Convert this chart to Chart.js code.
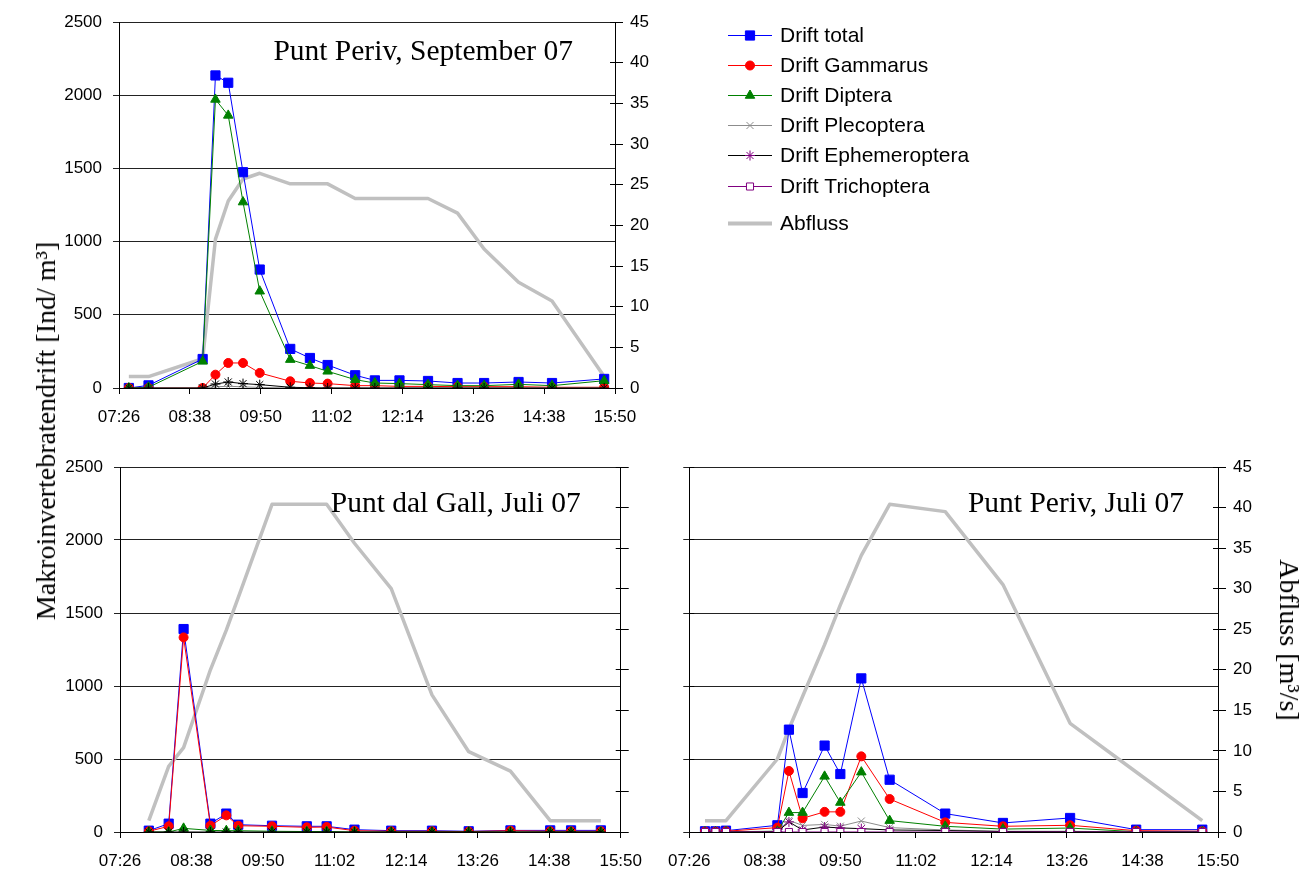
<!DOCTYPE html>
<html>
<head>
<meta charset="utf-8">
<title>Makroinvertebratendrift und Abfluss</title>
<script src="https://cdn.jsdelivr.net/npm/chart.js@4.4.1/dist/chart.umd.min.js"></script>
<style>
  html, body { margin: 0; padding: 0; background: #fff; }
  #fig { position: relative; width: 1308px; height: 870px; overflow: hidden; background: #fff; }
  #fig canvas { position: absolute; }
  .ytitle {
    position: absolute; white-space: nowrap; color: #000; line-height: 1;
    font-family: 'Liberation Serif', 'Times New Roman', serif; font-size: 28px;
  }
  #tLeft  { left: 46px;   top: 431px; transform: translate(-50%, -50%) rotate(-90deg); }
  #tRight { left: 1289px; top: 640px; transform: translate(-50%, -50%) rotate(90deg); }
</style>
</head>
<body>
<div id="fig">
  <canvas id="cSep"   width="1308" height="440" style="left:0;top:0"></canvas>
  <canvas id="cGall"  width="655"  height="430" style="left:0;top:440px"></canvas>
  <canvas id="cPeriv" width="653"  height="430" style="left:655px;top:440px"></canvas>
  <div class="ytitle" id="tLeft">Makroinvertebratendrift [Ind/ m³]</div>
  <div class="ytitle" id="tRight">Abfluss [m³/s]</div>
</div>
<script>
// ---- time axis ----
const xTickLabels = ['07:26', '08:38', '09:50', '11:02', '12:14', '13:26', '14:38', '15:50'];

// ---- Punt Periv, September 07 ----
const sepTimes = ['07:36', '07:56', '08:51', '09:04', '09:17', '09:32', '09:49', '10:20', '10:40', '10:58',
                  '11:26', '11:46', '12:11', '12:40', '13:10', '13:37', '14:12', '14:46', '15:39'];
const sepTotal         = [0, 18, 198, 2135, 2085, 1474, 809, 267, 205, 157, 87, 52, 52, 48, 34, 34, 41, 34, 62];
const sepGammarus      = [0, 0, 0, 91, 171, 171, 103, 46, 34, 30, 16, 16, 11, 11, 9, 9, 9, 5, 5];
const sepDiptera       = [0, 5, 182, 1971, 1862, 1270, 661, 194, 153, 114, 57, 34, 30, 23, 16, 16, 25, 16, 50];
const sepPlecoptera    = [0, 0, 0, 8, 12, 8, 4, 0, 0, 0, 0, 0, 0, 0, 0, 0, 0, 0, 0];
const sepEphemeroptera = [0, 0, 0, 27, 41, 30, 23, 5, 2, 0, 0, 0, 0, 0, 0, 0, 0, 0, 0];
const sepAbfluss       = [1.4, 1.4, 3.6, 18.3, 23.0, 25.7, 26.4, 25.1, 25.1, 25.1, 23.3, 23.3, 23.3, 23.3, 21.5, 17.1, 13.0, 10.7, 1.4];

// ---- Punt dal Gall, Juli 07 ----
const gallTimes = ['07:55', '08:15', '08:30', '08:57', '09:13', '09:25', '09:59', '10:34', '10:54', '11:22',
                   '11:59', '12:40', '13:17', '13:59', '14:39', '15:00', '15:30'];
const gallTotal         = [9, 57, 1390, 57, 126, 50, 43, 39, 39, 16, 9, 9, 5, 11, 11, 11, 11];
const gallGammarus      = [5, 39, 1333, 43, 114, 43, 39, 32, 34, 9, 5, 5, 3, 9, 5, 5, 5];
const gallDiptera       = [0, 0, 25, 11, 9, 9, 5, 3, 3, 0, 0, 0, 0, 0, 0, 0, 0];
const gallEphemeroptera = [0, 0, 0, 0, 0, 0, 0, 0, 0, 0, 0, 0, 0, 0, 0, 0, 0];
const gallAbfluss       = [1.4, 8.1, 10.4, 20.0, 24.9, 28.9, 40.4, 40.4, 40.4, 35.6, 30.0, 16.9, 9.9, 7.5, 1.4, 1.4, 1.4];

// ---- Punt Periv, Juli 07 ----
const perivTimes = ['07:41', '07:51', '08:01', '08:50', '09:01', '09:14', '09:35', '09:50', '10:10', '10:37',
                    '11:30', '12:25', '13:29', '14:32', '15:35'];
const perivTotal         = [5, 5, 9, 46, 701, 267, 592, 397, 1052, 358, 126, 62, 96, 16, 16];
const perivGammarus      = [3, 3, 5, 30, 418, 94, 138, 138, 518, 226, 66, 39, 46, 9, 5];
const perivDiptera       = [0, 0, 2, 5, 133, 133, 381, 202, 410, 78, 39, 20, 27, 2, 2];
const perivPlecoptera    = [0, 0, 0, 5, 80, 45, 52, 40, 75, 30, 14, 5, 5, 0, 0];
const perivEphemeroptera = [0, 0, 0, 2, 69, 14, 34, 28, 23, 14, 10, 3, 2, 0, 0];
const perivTrichoptera   = [0, 0, 0, 0, 0, 0, 0, 0, 0, 0, 0, 0, 0, 0, 0];
const perivAbfluss       = [1.4, 1.4, 1.4, 9.0, 12.7, 16.7, 23.1, 28.0, 34.1, 40.4, 39.5, 30.5, 13.4, 7.4, 1.4];

// ---- appearance ----
const SANS  = "'Liberation Sans', Arial, Helvetica, sans-serif";
const SERIF = "'Liberation Serif', 'Times New Roman', serif";

const STYLE = {
  total:         { label: 'Drift total',         line: '#0000ff', marker: '#0000ff', fill: '#0000ff', pointStyle: 'rect',     radius: 6.5, order: 6 },
  gammarus:      { label: 'Drift Gammarus',      line: '#ff0000', marker: '#ff0000', fill: '#ff0000', pointStyle: 'circle',   radius: 4.5, order: 5 },
  diptera:       { label: 'Drift Diptera',       line: '#008000', marker: '#008000', fill: '#008000', pointStyle: 'triangle', radius: 5.5, order: 4 },
  plecoptera:    { label: 'Drift Plecoptera',    line: '#8c8c8c', marker: '#8c8c8c', fill: '#8c8c8c', pointStyle: 'crossRot', radius: 5,   order: 3 },
  ephemeroptera: { label: 'Drift Ephemeroptera', line: '#000000', marker: '#800080', fill: '#800080', pointStyle: 'star',     radius: 5,   order: 2 },
  trichoptera:   { label: 'Drift Trichoptera',   line: '#800080', marker: '#800080', fill: '#ffffff', pointStyle: 'rect',     radius: 5,   order: 1 },
  abfluss:       { label: 'Abfluss',             line: '#c0c0c0', width: 3.5, order: 10 }
};
const legendKeys = ['total', 'gammarus', 'diptera', 'plecoptera', 'ephemeroptera', 'trichoptera', 'abfluss'];

Chart.defaults.font.family = SANS;
Chart.defaults.color = '#000';

const toMin = t => { const p = t.split(':').map(Number); return p[0] * 60 + p[1]; };
const fmt = v => {
  const h = Math.floor(v / 60), m = Math.round(v - h * 60);
  return String(h).padStart(2, '0') + ':' + String(m).padStart(2, '0');
};
const pts = (times, vals) => vals.map((v, i) => ({ x: toMin(times[i]), y: v }));

function driftSet(key, times, vals, markerColor) {
  const s = STYLE[key];
  const mc = markerColor || s.marker;
  return {
    label: s.label, data: pts(times, vals), yAxisID: 'y',
    borderColor: s.line, borderWidth: 1, tension: 0, fill: false,
    pointStyle: s.pointStyle, pointRadius: s.radius, pointHoverRadius: s.radius,
    pointBackgroundColor: s.fill === s.marker ? mc : s.fill, pointBorderColor: mc, pointBorderWidth: 1,
    order: s.order
  };
}
function flowSet(times, vals) {
  const s = STYLE.abfluss;
  return {
    label: s.label, data: pts(times, vals), yAxisID: 'y1',
    borderColor: s.line, borderWidth: s.width, tension: 0, fill: false,
    pointRadius: 0, pointHoverRadius: 0, order: s.order, borderJoinStyle: 'round'
  };
}

// tick marks on the plot side of an axis
const innerTicks = {
  id: 'innerTicks',
  afterDatasetsDraw(chart, args, o) {
    const ctx = chart.ctx;
    (o.axes || []).forEach(id => {
      const sc = chart.scales[id];
      if (!sc) return;
      ctx.save();
      ctx.strokeStyle = '#000';
      ctx.lineWidth = 1;
      ctx.beginPath();
      sc.ticks.forEach(t => {
        const y = Math.round(sc.getPixelForValue(t.value) - 0.5) + 0.5;
        if (sc.position === 'right') { ctx.moveTo(sc.left, y); ctx.lineTo(sc.left - o.length, y); }
        else { ctx.moveTo(sc.right, y); ctx.lineTo(sc.right + o.length, y); }
      });
      ctx.stroke();
      ctx.restore();
    });
  }
};

// station / month caption in the upper right of the plot
const panelTitle = {
  id: 'panelTitle',
  afterDraw(chart, args, o) {
    if (!o.text) return;
    const ctx = chart.ctx, a = chart.chartArea;
    ctx.save();
    ctx.font = o.size + 'px ' + SERIF;
    ctx.fillStyle = '#000';
    ctx.textAlign = 'right';
    ctx.textBaseline = 'alphabetic';
    ctx.fillText(o.text, a.right - o.dx, a.top + o.dy);
    ctx.restore();
  }
};

function drawMarker(ctx, s, x, y) {
  ctx.save();
  ctx.fillStyle = s.fill;
  ctx.strokeStyle = s.marker;
  ctx.lineWidth = 1;
  if (Chart.helpers && Chart.helpers.drawPoint) {
    Chart.helpers.drawPoint(ctx, { pointStyle: s.pointStyle, radius: s.radius, rotation: 0, borderWidth: 1 }, x, y);
  } else {
    ctx.beginPath(); ctx.arc(x, y, s.radius, 0, Math.PI * 2); ctx.fill(); ctx.stroke();
  }
  ctx.restore();
}

// shared legend to the right of the September panel
const sideLegend = {
  id: 'sideLegend',
  afterDraw(chart, args, o) {
    if (!o.keys) return;
    const ctx = chart.ctx;
    o.keys.forEach((k, i) => {
      const s = STYLE[k], y = o.rows[i];
      ctx.save();
      ctx.strokeStyle = s.line;
      ctx.lineWidth = s.width ? 4 : 1;
      ctx.beginPath();
      ctx.moveTo(o.x0, y + 0.5);
      ctx.lineTo(o.x1, y + 0.5);
      ctx.stroke();
      ctx.restore();
      if (s.pointStyle) drawMarker(ctx, s, (o.x0 + o.x1) / 2, y + 0.5);
      ctx.save();
      ctx.font = o.size + 'px ' + SANS;
      ctx.fillStyle = '#000';
      ctx.textAlign = 'left';
      ctx.textBaseline = 'middle';
      ctx.fillText(s.label, o.textX, y + 1);
      ctx.restore();
    });
  }
};

function makeChart(id, c) {
  return new Chart(document.getElementById(id), {
    type: 'line',
    data: { datasets: c.datasets },
    plugins: [innerTicks, panelTitle, sideLegend],
    options: {
      responsive: false, animation: false, events: [],
      layout: { padding: { top: c.padTop, left: 0, right: 0, bottom: 0 } },
      plugins: {
        legend: { display: false }, tooltip: { enabled: false },
        innerTicks: { axes: c.inner || [], length: 5 },
        panelTitle: { text: c.title, size: 29.5, dx: c.tdx, dy: c.tdy },
        sideLegend: c.legend || {}
      },
      scales: {
        x: {
          type: 'linear', min: toMin(xTickLabels[0]), max: toMin(xTickLabels[xTickLabels.length - 1]),
          afterBuildTicks: s => { s.ticks = xTickLabels.map(t => ({ value: toMin(t) })); },
          afterFit: s => { s.height = c.xH; },
          grid: { drawOnChartArea: false, drawTicks: true, tickLength: 6, color: '#000', lineWidth: 1 },
          border: { display: true, color: '#000', width: 1 },
          ticks: { autoSkip: false, maxRotation: 0, minRotation: 0, padding: 13, color: '#000',
                   font: { family: SANS, size: 17 }, callback: v => fmt(v) }
        },
        y: {
          position: 'left', min: 0, max: 2500,
          afterFit: s => { s.width = c.leftW; },
          grid: { drawOnChartArea: true, drawTicks: true, tickLength: 6, color: '#222', lineWidth: 1 },
          border: { display: true, color: '#000', width: 1 },
          ticks: { stepSize: 500, padding: 11, color: '#000', font: { family: SANS, size: 17 },
                   callback: v => (c.showLeft ? String(v) : '') }
        },
        y1: {
          position: 'right', min: 0, max: 45,
          afterFit: s => { s.width = c.rightW; },
          grid: { drawOnChartArea: false, drawTicks: true, tickLength: 8, color: '#000', lineWidth: 1 },
          border: { display: true, color: '#000', width: 1 },
          ticks: { stepSize: 5, padding: 7, color: '#000', font: { family: SANS, size: 17 },
                   callback: v => (c.showRight ? String(v) : '') }
        }
      }
    }
  });
}

// Punt Periv, September 07 (with legend)
makeChart('cSep', {
  leftW: 119, rightW: 693, padTop: 22, xH: 52, showLeft: true, showRight: true,
  inner: ['y1'], title: 'Punt Periv, September 07', tdx: 42, tdy: 38,
  legend: { keys: legendKeys, rows: [35, 65, 95, 125, 155, 186, 223], x0: 728, x1: 772, textX: 780, size: 21 },
  datasets: [
    driftSet('total', sepTimes, sepTotal),
    driftSet('gammarus', sepTimes, sepGammarus),
    driftSet('diptera', sepTimes, sepDiptera),
    driftSet('plecoptera', sepTimes, sepPlecoptera),
    driftSet('ephemeroptera', sepTimes, sepEphemeroptera, '#000000'),
    flowSet(sepTimes, sepAbfluss)
  ]
});

// Punt dal Gall, Juli 07
makeChart('cGall', {
  leftW: 120, rightW: 26, padTop: 27, xH: 38, showLeft: true, showRight: false,
  inner: ['y1'], title: 'Punt dal Gall, Juli 07', tdx: 40, tdy: 45,
  datasets: [
    driftSet('total', gallTimes, gallTotal),
    driftSet('gammarus', gallTimes, gallGammarus),
    driftSet('diptera', gallTimes, gallDiptera),
    driftSet('ephemeroptera', gallTimes, gallEphemeroptera, '#000000'),
    flowSet(gallTimes, gallAbfluss)
  ]
});

// Punt Periv, Juli 07
makeChart('cPeriv', {
  leftW: 34, rightW: 90, padTop: 27, xH: 38, showLeft: false, showRight: true,
  inner: ['y', 'y1'], title: 'Punt Periv, Juli 07', tdx: 34, tdy: 45,
  datasets: [
    driftSet('total', perivTimes, perivTotal),
    driftSet('gammarus', perivTimes, perivGammarus),
    driftSet('diptera', perivTimes, perivDiptera),
    driftSet('plecoptera', perivTimes, perivPlecoptera),
    driftSet('ephemeroptera', perivTimes, perivEphemeroptera),
    driftSet('trichoptera', perivTimes, perivTrichoptera),
    flowSet(perivTimes, perivAbfluss)
  ]
});
</script>
</body>
</html>
